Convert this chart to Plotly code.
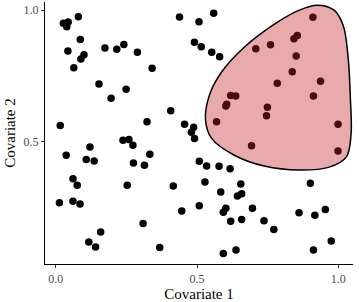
import plotly.graph_objects as go

# Scatter data (Covariate 1, Covariate 2)
cov1 = [0.080, 0.027, 0.044, 0.039, 0.087, 0.043, 0.174, 0.216, 0.241, 0.289,
        0.100, 0.089, 0.064, 0.341, 0.153, 0.249, 0.196, 0.407, 0.323, 0.016,
        0.438, 0.507, 0.559, 0.491, 0.515, 0.552, 0.580, 0.456, 0.488, 0.480,
        0.491, 0.910, 0.708, 0.760, 0.843, 0.855, 0.851, 0.837, 0.784, 0.937,
        0.912, 0.619, 0.637, 0.605, 0.602, 0.749, 0.746, 0.569, 0.999, 0.693,
        0.999, 0.121, 0.238, 0.259, 0.273, 0.037, 0.108, 0.136, 0.333, 0.275,
        0.314, 0.061, 0.076, 0.253, 0.416, 0.013, 0.061, 0.086, 0.446, 0.309,
        0.159, 0.117, 0.141, 0.368, 0.508, 0.534, 0.578, 0.617, 0.528, 0.655,
        0.584, 0.643, 0.658, 0.508, 0.602, 0.593, 0.696, 0.619, 0.658, 0.737,
        0.772, 0.901, 0.861, 0.917, 0.954, 0.975, 0.912, 0.638, 0.593]
cov2 = [0.975, 0.950, 0.955, 0.937, 0.889, 0.845, 0.856, 0.852, 0.870, 0.840,
        0.831, 0.815, 0.781, 0.779, 0.720, 0.700, 0.665, 0.618, 0.576, 0.562,
        0.974, 0.956, 0.988, 0.878, 0.861, 0.840, 0.823, 0.567, 0.555, 0.536,
        0.513, 0.973, 0.853, 0.869, 0.891, 0.904, 0.826, 0.766, 0.722, 0.730,
        0.674, 0.676, 0.674, 0.643, 0.636, 0.631, 0.599, 0.576, 0.567, 0.485,
        0.465, 0.480, 0.506, 0.509, 0.487, 0.449, 0.433, 0.427, 0.453, 0.420,
        0.411, 0.360, 0.335, 0.335, 0.332, 0.269, 0.274, 0.264, 0.237, 0.190,
        0.158, 0.120, 0.101, 0.099, 0.426, 0.408, 0.407, 0.398, 0.347, 0.340,
        0.309, 0.294, 0.303, 0.257, 0.248, 0.233, 0.248, 0.198, 0.205, 0.200,
        0.167, 0.343, 0.231, 0.221, 0.243, 0.123, 0.089, 0.089, 0.076]

# Highlighted region outline (data units)
region_x = [0.668, 0.774, 0.862, 0.925, 0.985, 1.017, 1.034, 1.043, 1.045, 1.028,
            0.968, 0.862, 0.738, 0.632, 0.551, 0.530, 0.544, 0.587, 0.668]
region_y = [0.860, 0.947, 1.000, 1.019, 1.000, 0.943, 0.829, 0.658, 0.526, 0.442,
            0.404, 0.393, 0.408, 0.449, 0.514, 0.583, 0.678, 0.765, 0.860]

tick_vals = [0.0, 0.5, 1.0]
tick_text = ["0.0", "0.5", "1.0"]

FONT = "Liberation Serif, Times New Roman, serif"

fig = go.Figure()
fig.add_trace(go.Scatter(
    x=cov1, y=cov2, mode="markers",
    marker=dict(size=7.5, color="black", line=dict(width=0)),
    showlegend=False, hoverinfo="skip"))
fig.add_trace(go.Scatter(
    x=region_x, y=region_y, mode="lines", line_shape="spline",
    line=dict(color="black", width=1.5, smoothing=1.0),
    fill="toself", fillcolor="rgba(195,32,35,0.38)",
    showlegend=False, hoverinfo="skip"))

axis_common = dict(
    showgrid=False, zeroline=False, showline=True, linecolor="black", linewidth=1.2,
    ticks="outside", ticklen=3, tickwidth=1, tickcolor="#333333",
    tickvals=tick_vals, ticktext=tick_text, automargin=True,
    tickfont=dict(family=FONT, size=12, color="#4d4d4d"),
)

fig.update_layout(
    width=359, height=302,
    margin=dict(l=45, r=6, t=2, b=38, autoexpand=False),
    paper_bgcolor="white", plot_bgcolor="white",
    font=dict(family=FONT),
    xaxis=dict(range=[-0.038, 1.052],
               title=dict(text="Covariate 1", font=dict(family=FONT, size=15, color="black"), standoff=2),
               **axis_common),
    yaxis=dict(range=[0.036, 1.031],
               title=dict(text="Covariate 2", font=dict(family=FONT, size=15, color="black"), standoff=4),
               **axis_common),
)

fig.write_html("out.html", config={"displayModeBar": False},
               post_script="document.body.style.margin='0';document.body.style.padding='0';")
